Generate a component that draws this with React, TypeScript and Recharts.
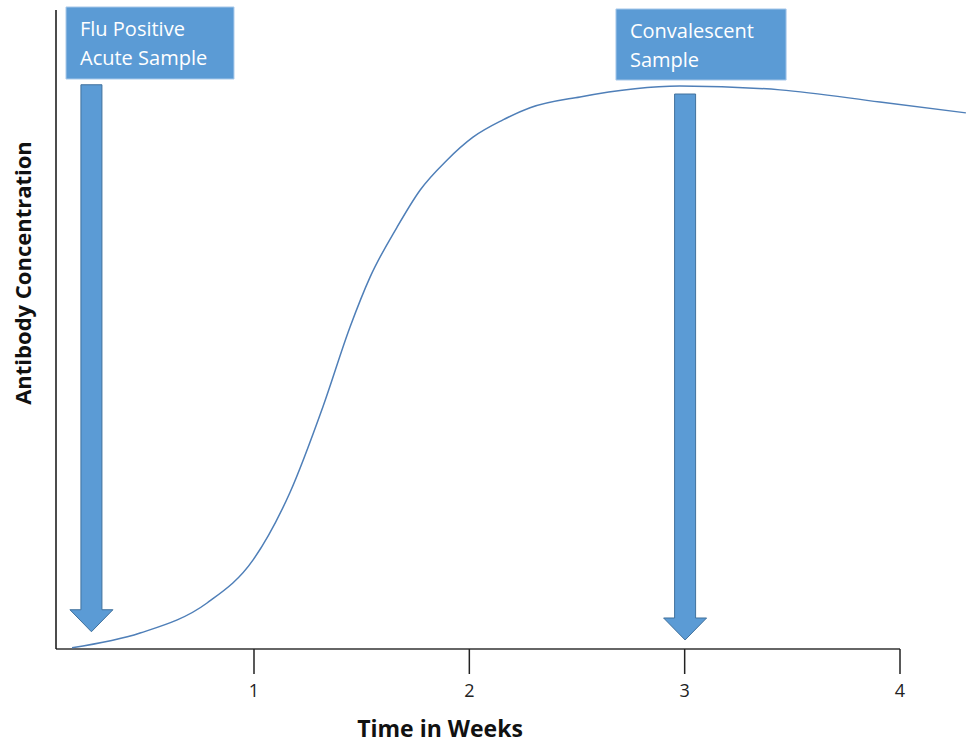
import { LineChart, Line, XAxis, YAxis, ReferenceLine, ReferenceArea, Label } from 'recharts'

// curve: time in weeks vs antibody concentration (0-100)
const weeks = [0.155, 0.471, 0.782, 0.995, 1.167, 1.321, 1.446, 1.539, 1.664, 1.771, 1.896, 2.017, 2.156, 2.282, 2.514, 2.978, 3.443, 3.907, 4.306]
const concentration = [0.2, 2.5, 7.2, 13.9, 24.5, 38.0, 50.4, 58.2, 66.0, 71.8, 76.5, 80.1, 82.8, 84.7, 86.4, 88.1, 87.5, 85.6, 83.9]

const xTicks = [1, 2, 3, 4]
const xDomain = [0.0805, 4.3065]

// sample annotations: arrow week, arrow top/bottom, box extents
const sampleNames = [['Flu Positive', 'Acute Sample'], ['Convalescent', 'Sample']]
const arrowWeek = [0.245, 3.002]
const arrowTop = [88.3, 86.85]
const arrowTip = [2.7, 1.41]
const boxX1 = [0.127, 2.681]
const boxX2 = [0.907, 3.471]
const boxY1 = [89.2, 89.04]
const boxY2 = [100.47, 100.16]

const data = weeks.map((w, i) => ({ week: w, conc: concentration[i] }))

const BLUE = '#5b9bd5'
const FONT = '"Open Sans", sans-serif'

function Arrow(props: any) {
  const { x1, y1, y2 } = props
  const sw = 10.5
  const hw = 21.5
  const hl = 22
  const pts = [
    [x1 - sw, y1], [x1 + sw, y1], [x1 + sw, y2 - hl], [x1 + hw, y2 - hl],
    [x1, y2], [x1 - hw, y2 - hl], [x1 - sw, y2 - hl],
  ].map((p) => p.join(',')).join(' ')
  return <polygon points={pts} fill={BLUE} stroke="#41719c" strokeWidth={1} />
}

function boxLabel(lines: string[]) {
  return (props: any) => {
    const { x, y } = props.viewBox
    return (
      <text x={x + 14} y={y + 29} fill="#fff" fontFamily={FONT} fontSize={20}>
        <tspan x={x + 14}>{lines[0]}</tspan>
        <tspan x={x + 14} dy={29}>{lines[1]}</tspan>
      </text>
    )
  }
}

export default function App() {
  return (
    <div style={{ position: 'absolute', left: 0, top: 0, background: '#fff' }}>
      <LineChart width={966} height={744} data={data} margin={{ top: 10, right: 0, left: 0, bottom: 35 }}>
        <XAxis
          type="number"
          dataKey="week"
          domain={xDomain}
          ticks={xTicks}
          allowDataOverflow
          axisLine={false}
          tickSize={25}
          tickMargin={10}
          tickLine={{ stroke: '#222', strokeWidth: 1.5 }}
          tick={{ fill: '#222', fontSize: 18, fontFamily: FONT }}
          height={60}
        >
          <Label
            content={() => (
              <text x={440} y={737} textAnchor="middle" fontFamily={FONT} fontWeight={700} fontSize={23} fill="#111">
                Time in Weeks
              </text>
            )}
          />
        </XAxis>
        <YAxis
          type="number"
          domain={[0, 100]}
          tick={false}
          tickLine={false}
          width={56}
          axisLine={{ stroke: '#111', strokeWidth: 1.5 }}
        >
          <Label
            content={() => (
              <text x={31} y={273} transform="rotate(-90, 31, 273)" textAnchor="middle" fontFamily={FONT} fontWeight={700} fontSize={22} fill="#111">
                Antibody Concentration
              </text>
            )}
          />
        </YAxis>
        <ReferenceLine
          segment={[{ x: xDomain[0], y: 0 }, { x: 4, y: 0 }]}
          stroke="#333"
          strokeWidth={1.5}
        />
        <Line type="monotone" dataKey="conc" stroke="#4f7fb8" strokeWidth={1.5} dot={false} isAnimationActive={false} />
        {sampleNames.map((lines, i) => (
          <ReferenceArea
            key={'box' + i}
            x1={boxX1[i]}
            x2={boxX2[i]}
            y1={boxY1[i]}
            y2={boxY2[i]}
            ifOverflow="visible"
            fill={BLUE}
            fillOpacity={1}
            stroke="#a9c9ea"
            strokeWidth={1}
            label={boxLabel(lines)}
          />
        ))}
        {arrowWeek.map((w, i) => (
          <ReferenceLine
            key={'arrow' + i}
            segment={[{ x: w, y: arrowTop[i] }, { x: w, y: arrowTip[i] }]}
            shape={Arrow}
          />
        ))}
      </LineChart>
    </div>
  )
}
